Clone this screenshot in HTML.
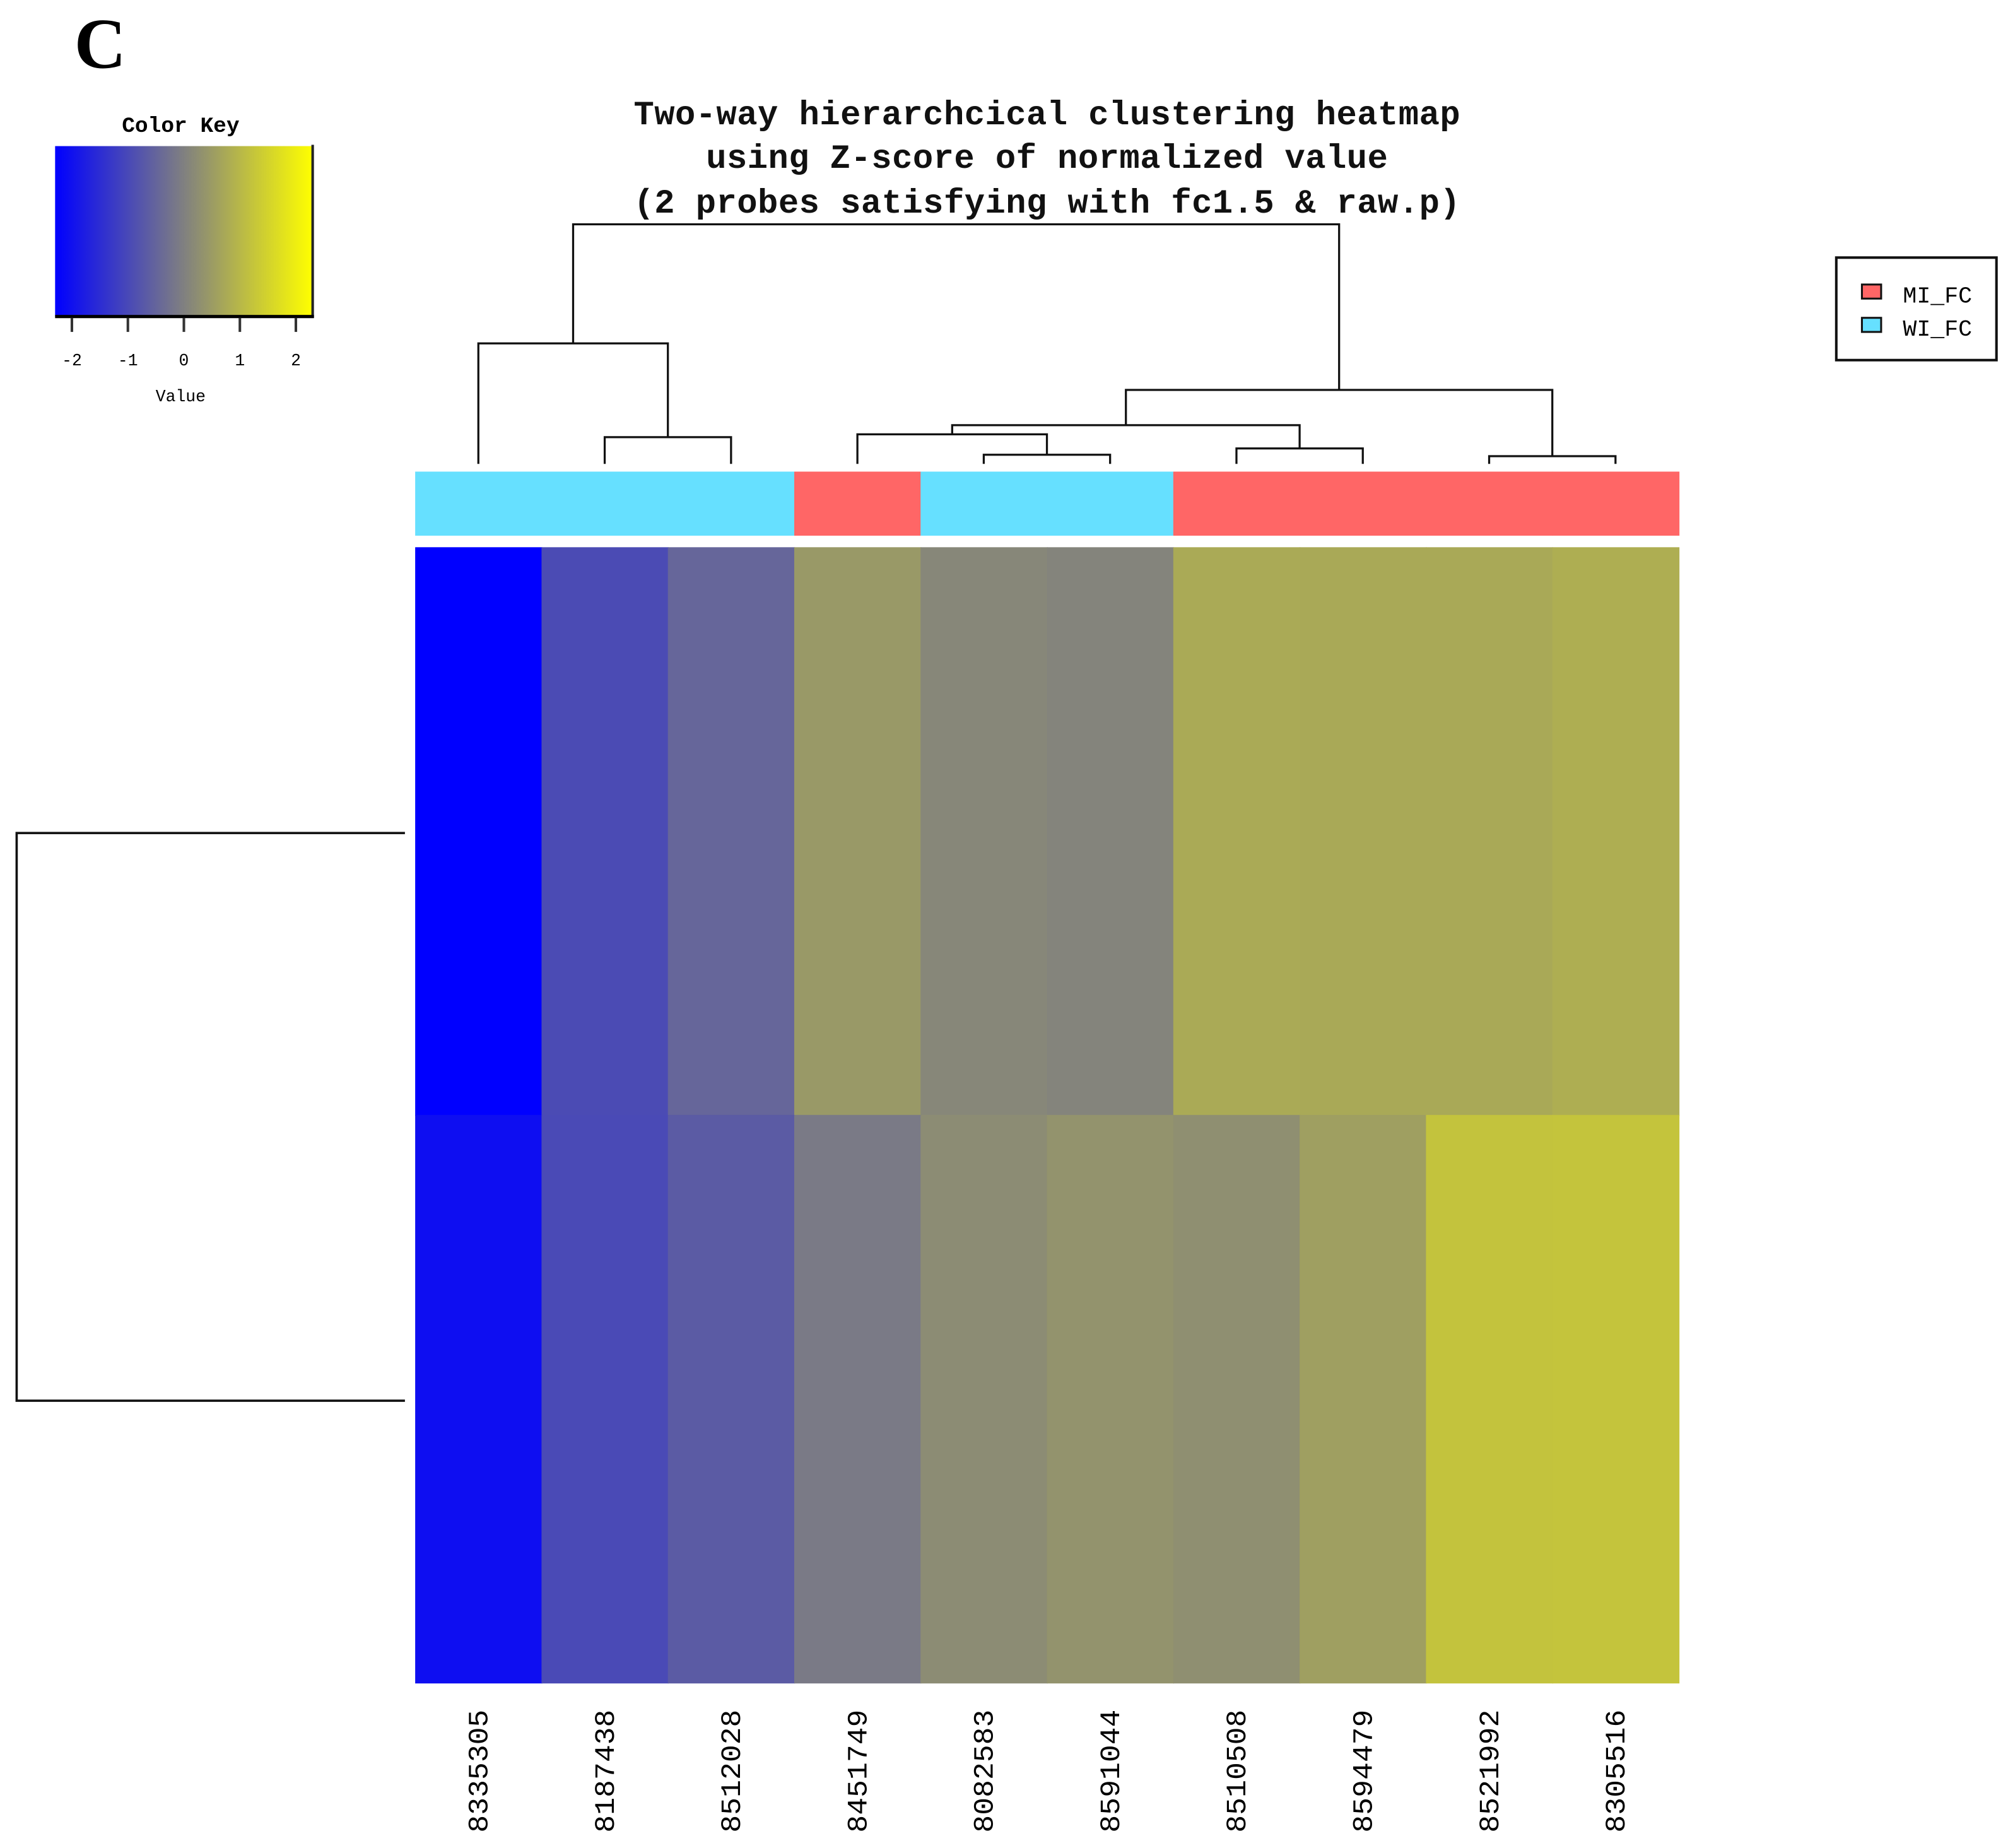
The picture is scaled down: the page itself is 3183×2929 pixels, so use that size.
<!DOCTYPE html>
<html><head><meta charset="utf-8">
<style>html,body{margin:0;padding:0;background:#fff}svg{display:block}</style></head>
<body>
<svg id="chart" width="3183" height="2929" viewBox="0 0 1567 1442" preserveAspectRatio="none" xmlns="http://www.w3.org/2000/svg">
<defs>
<linearGradient id="keygrad" x1="0" x2="1" y1="0" y2="0">
<stop offset="0" stop-color="#0000ff"/><stop offset="0.5" stop-color="#808080"/><stop offset="1" stop-color="#ffff00"/>
</linearGradient>
</defs>
<text x="58" y="53" font-family="Liberation Serif, serif" font-weight="bold" font-size="56">C</text>
<text x="141" y="103" text-anchor="middle" font-family="Liberation Mono, monospace" font-size="17" font-weight="bold">Color Key</text>
<rect x="43" y="114" width="201" height="133" fill="url(#keygrad)"/>
<line x1="244" y1="113" x2="244" y2="248" stroke="#222" stroke-width="2"/>
<line x1="43" y1="247" x2="245" y2="247" stroke="#000" stroke-width="2.5"/>
<g id="keyticks"></g>
<text x="141" y="313" text-anchor="middle" font-family="Liberation Mono, monospace" font-size="13">Value</text>
<g font-family="Liberation Mono, monospace" font-size="26.5" text-anchor="middle" font-weight="bold" fill="#111">
<text x="817" y="97" textLength="645">Two-way hierarchcical clustering heatmap</text>
<text x="817" y="131" textLength="532">using Z-score of normalized value</text>
<text x="817" y="166" textLength="645">(2 probes satisfying with fc1.5 &amp; raw.p)</text>
</g>
<g id="coldend" stroke="#111" stroke-width="1.6" fill="none"></g>
<g id="rowdend" stroke="#111" stroke-width="1.8" fill="none">
<path d="M316 650 H13 V1093 H316"/>
</g>
<g id="groupbar"></g>
<g id="cells"></g>
<g id="labels"></g>
<g>
<rect x="1433" y="201" width="125" height="80" fill="#fff" stroke="#111" stroke-width="2"/>
<rect x="1453" y="222" width="15" height="11" fill="#ff6666" stroke="#111" stroke-width="1.5"/>
<text x="1485" y="236" font-family="Liberation Mono, monospace" font-size="18">MI_FC</text>
<rect x="1453" y="248" width="15" height="11" fill="#66e0ff" stroke="#111" stroke-width="1.5"/>
<text x="1485" y="262" font-family="Liberation Mono, monospace" font-size="18">WI_FC</text>
</g>
</svg>
<script>
const samples = ["8335305","8187438","8512028","8451749","8082583","8591044","8510508","8594479","8521992","8305516"];
const groups = ["WI","WI","WI","MI","WI","WI","MI","MI","MI","MI"];
const row1 = [-2.3,-0.95,-0.47,0.45,0.13,0.07,0.76,0.74,0.74,0.83];
const row2 = [-2.05,-0.97,-0.66,-0.11,0.22,0.34,0.27,0.56,1.21,1.23];
const keyTicks = [-2,-1,0,1,2];
// column dendrogram merges: [left node, right node, height]; nodes <0 are leaves (-(i+1))
const merges = [[-9,-10,0.11],[-5,-6,0.13],[-7,-8,0.22],[-2,-3,0.38],[-4,1,0.42],[4,2,0.55],[5,0,1.05],[-1,3,1.71],[7,6,3.4]];

const NS="http://www.w3.org/2000/svg";
const X0=324,X1=1310,nC=samples.length,cw=(X1-X0)/nC;
const HY0=427,HY1=1313;
const zMin=-2.3,zMax=2.3;
function xc(i){return X0+cw*(i+0.5);}
function keyX(v){return 43+(v-zMin)/(zMax-zMin)*201;}
function color(z){let r,g,b;
 if(z<0){const t=Math.max(0,(z-zMin)/(-zMin));r=g=128*t;b=255-127*t;}
 else{const t=Math.min(1,z/zMax);r=g=128+127*t;b=128-128*t;}
 return `rgb(${Math.round(r)},${Math.round(g)},${Math.round(b)})`;}
function el(tag,attrs,parent){const e=document.createElementNS(NS,tag);for(const k in attrs)e.setAttribute(k,attrs[k]);parent.appendChild(e);return e;}

const kt=document.getElementById('keyticks');
keyTicks.forEach(v=>{
 const x=keyX(v);
 const l=el('line',{x1:x,y1:248,x2:x,y2:259,stroke:'#333','stroke-width':2},kt);
 
 
 const t=el('text',{x:x,y:285,'text-anchor':'middle','font-family':'Liberation Mono, monospace','font-size':13},kt);
 t.textContent=String(v);
 
 
});

const gb=document.getElementById('groupbar');
groups.forEach((g,i)=>{
 const r=el('rect',{x:X0+cw*i,y:368,width:cw+0.6,height:50,fill:g==='MI'?'#ff6666':'#66e0ff'},gb);
 
 
});

const cells=document.getElementById('cells');
const rowH=(HY1-HY0)/2;
[row1,row2].forEach((row,ri)=>{
 row.forEach((z,i)=>{
  const r=el('rect',{x:X0+cw*i,y:HY0+rowH*ri,width:cw+0.6,height:rowH+0.6,fill:color(z)},cells);
  
  
 });
});

const lb=document.getElementById('labels');
samples.forEach((s,i)=>{
 const x=xc(i)+7,y=1334;
 const t=el('text',{x:0,y:0,transform:`translate(${x},${y}) rotate(-90)`,'text-anchor':'end','font-family':'Liberation Mono, monospace','font-size':22,textLength:96,lengthAdjust:'spacingAndGlyphs'},lb);
 t.textContent=s;
 
 
});

const cd=document.getElementById('coldend');
const dBase=362,dTop=175,hMax=3.4;
function hy(h){return dBase-(h/hMax)*(dBase-dTop);}
const nodes=[];
function nodePos(n){if(n<0)return {x:xc(-n-1),y:dBase};return nodes[n];}
merges.forEach((m,k)=>{
 const a=nodePos(m[0]),b=nodePos(m[1]),y=hy(m[2]);
 const p=el('path',{d:`M${a.x} ${a.y} V${y} H${b.x} V${b.y}`},cd);
 
 
 nodes[k]={x:(a.x+b.x)/2,y:y};
});
</script>
</body></html>
